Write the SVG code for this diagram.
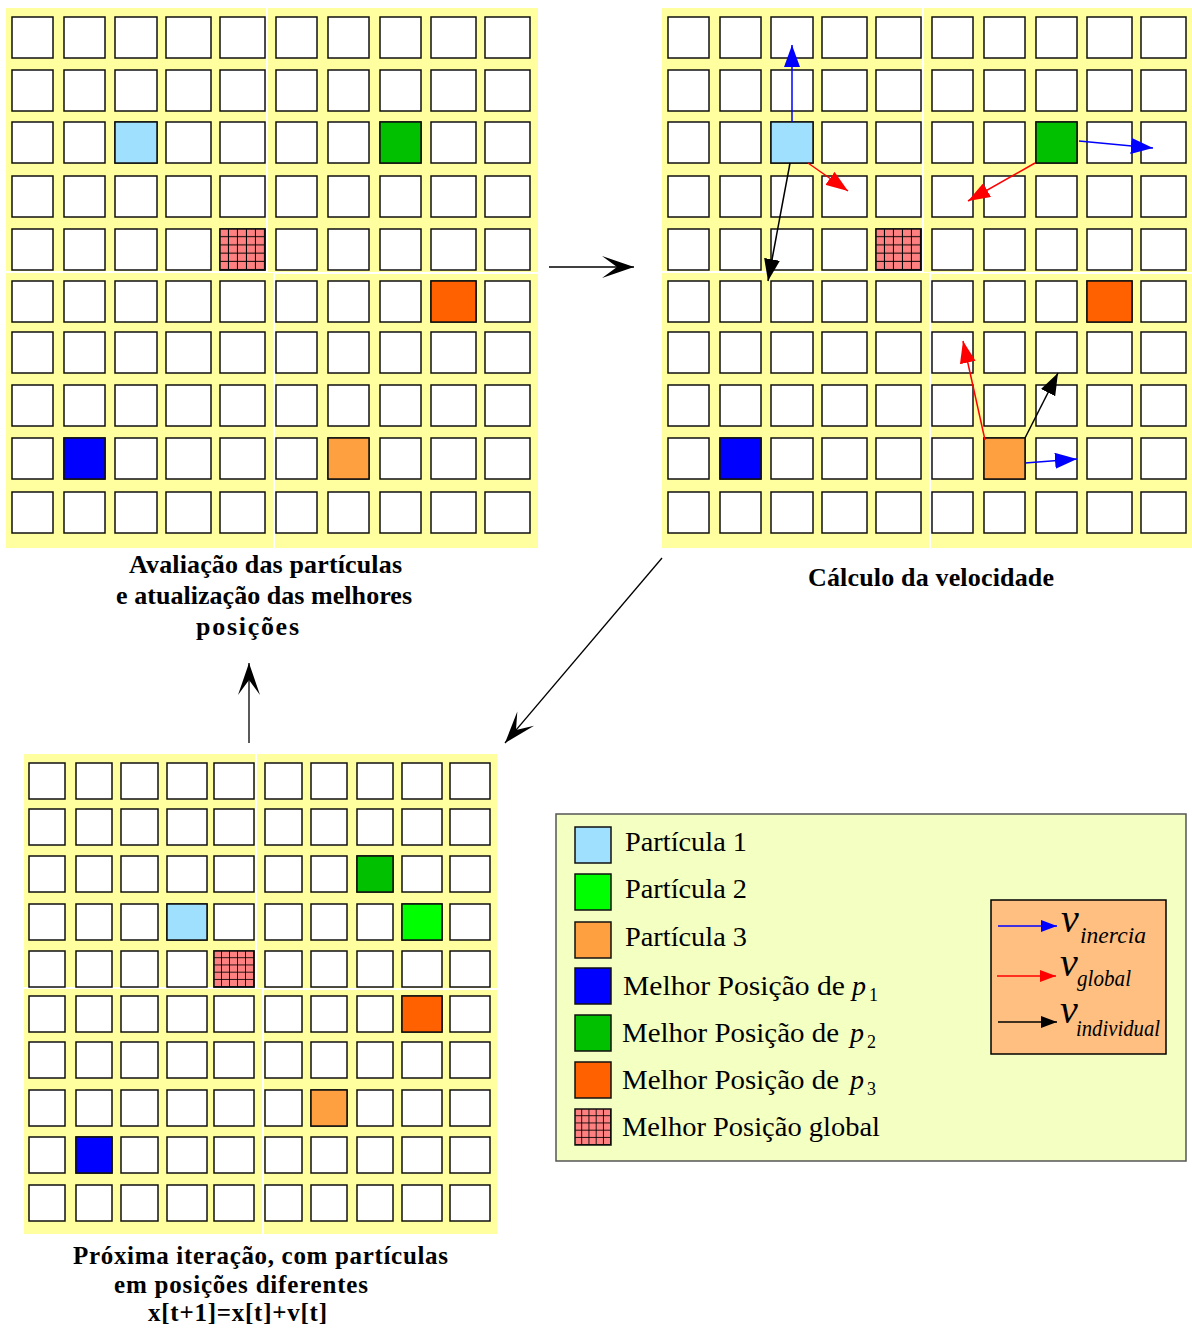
<svg xmlns="http://www.w3.org/2000/svg" xmlns:xlink="http://www.w3.org/1999/xlink" width="1192" height="1328" viewBox="0 0 1192 1328">
  <style>
    .bg { fill: #FFFFA0; }
    .cell { fill: #FFFFFF; stroke: #111; stroke-width: 1.5; }
    .p1 { fill: #A0E0FF; }
    .p2 { fill: #00FF00; }
    .p3 { fill: #FFA040; }
    .b1 { fill: #0000FF; }
    .b2 { fill: #00C000; }
    .b3 { fill: #FF6000; }
    .bg-hatch { fill: url(#hatch); }
    .mark { stroke: #111; stroke-width: 1.5; }
    .cap { font-family: "Liberation Serif", "Times New Roman", serif; font-weight: bold; font-size: 26px; fill: #000; }
    .cap-s { font-size: 25px; }
    .lg { font-family: "Liberation Serif", "Times New Roman", serif; font-size: 28px; fill: #000; }
    .it { font-style: italic; }
    .sub { font-size: 18px; }
    .vsym { font-size: 40px; font-style: italic; }
    .vsub { font-size: 23px; font-style: italic; }
    .big { fill: none; stroke: #000; stroke-width: 1.3; marker-end: url(#bigHead); }
    .vb { fill: none; stroke: #0000FF; stroke-width: 1.5; }
    .vr { fill: none; stroke: #FF0000; stroke-width: 1.5; }
    .vk { fill: none; stroke: #000000; stroke-width: 1.5; }
  </style>
  <defs>
    <!-- cross-hatched fill for the global best cell -->
    <pattern id="hatch" patternUnits="objectBoundingBox" patternContentUnits="objectBoundingBox" width="0.2" height="0.2">
      <rect width="0.2" height="0.2" fill="#FF8080"/>
      <rect x="0.176" y="0" width="0.024" height="0.2" fill="#000"/>
      <rect x="0" y="0.176" width="0.2" height="0.024" fill="#000"/>
    </pattern>
    <!-- arrowheads -->
    <marker id="bigHead" markerUnits="userSpaceOnUse" viewBox="-33 -12 34 24" refX="0" refY="0" markerWidth="34" markerHeight="24" orient="auto">
      <path d="M0,0 L-32,-11 L-17,0 L-32,11 Z" fill="#000"/>
    </marker>
    <marker id="hb" markerUnits="userSpaceOnUse" viewBox="-22 -8 22 16" refX="0" refY="0" markerWidth="22" markerHeight="16" orient="auto">
      <path d="M0,0 L-22,-8 L-22,8 Z" fill="#0000FF"/>
    </marker>
    <marker id="hr" markerUnits="userSpaceOnUse" viewBox="-22 -8 22 16" refX="0" refY="0" markerWidth="22" markerHeight="16" orient="auto">
      <path d="M0,0 L-22,-8 L-22,8 Z" fill="#FF0000"/>
    </marker>
    <marker id="hk" markerUnits="userSpaceOnUse" viewBox="-22 -8 22 16" refX="0" refY="0" markerWidth="22" markerHeight="16" orient="auto">
      <path d="M0,0 L-22,-8 L-22,8 Z" fill="#000000"/>
    </marker>
    <marker id="sb" markerUnits="userSpaceOnUse" viewBox="-16 -6 16 12" refX="0" refY="0" markerWidth="16" markerHeight="12" orient="auto">
      <path d="M0,0 L-16,-6 L-16,6 Z" fill="#0000FF"/>
    </marker>
    <marker id="sr" markerUnits="userSpaceOnUse" viewBox="-16 -6 16 12" refX="0" refY="0" markerWidth="16" markerHeight="12" orient="auto">
      <path d="M0,0 L-16,-6 L-16,6 Z" fill="#FF0000"/>
    </marker>
    <marker id="sk" markerUnits="userSpaceOnUse" viewBox="-16 -6 16 12" refX="0" refY="0" markerWidth="16" markerHeight="12" orient="auto">
      <path d="M0,0 L-16,-6 L-16,6 Z" fill="#000000"/>
    </marker>

    <!-- one row of the large 10x10 search grid -->
    <g id="rowA" class="cell">
      <rect x="6" width="41" height="41"/>
      <rect x="58" width="41" height="41"/>
      <rect x="109" width="42" height="41"/>
      <rect x="160" width="45" height="41"/>
      <rect x="214" width="45" height="41"/>
      <rect x="270" width="41" height="41"/>
      <rect x="322" width="41" height="41"/>
      <rect x="374" width="41" height="41"/>
      <rect x="425" width="45" height="41"/>
      <rect x="479" width="45" height="41"/>
    </g>
    <g id="gridA">
      <rect class="bg" x="0" y="0" width="260" height="263"/>
      <rect class="bg" x="262" y="0" width="270" height="264"/>
      <rect class="bg" x="0" y="265" width="267" height="275"/>
      <rect class="bg" x="269" y="266" width="263" height="274"/>
      <use xlink:href="#rowA" y="9"/>
      <use xlink:href="#rowA" y="62"/>
      <use xlink:href="#rowA" y="114"/>
      <use xlink:href="#rowA" y="168"/>
      <use xlink:href="#rowA" y="221"/>
      <use xlink:href="#rowA" y="273"/>
      <use xlink:href="#rowA" y="324"/>
      <use xlink:href="#rowA" y="377"/>
      <use xlink:href="#rowA" y="430"/>
      <use xlink:href="#rowA" y="484"/>
    </g>

    <!-- one row of the smaller grid -->
    <g id="rowB" class="cell">
      <rect x="5" width="36" height="36"/>
      <rect x="52" width="36" height="36"/>
      <rect x="97" width="37" height="36"/>
      <rect x="143" width="40" height="36"/>
      <rect x="190" width="40" height="36"/>
      <rect x="241" width="37" height="36"/>
      <rect x="287" width="36" height="36"/>
      <rect x="333" width="36" height="36"/>
      <rect x="378" width="40" height="36"/>
      <rect x="426" width="40" height="36"/>
    </g>
    <g id="gridB">
      <rect class="bg" x="0" y="0" width="231" height="233"/>
      <rect class="bg" x="233" y="0" width="240" height="234"/>
      <rect class="bg" x="0" y="235" width="238" height="245"/>
      <rect class="bg" x="240" y="236" width="233" height="244"/>
      <use xlink:href="#rowB" y="9"/>
      <use xlink:href="#rowB" y="55"/>
      <use xlink:href="#rowB" y="102"/>
      <use xlink:href="#rowB" y="150"/>
      <use xlink:href="#rowB" y="197"/>
      <use xlink:href="#rowB" y="242"/>
      <use xlink:href="#rowB" y="288"/>
      <use xlink:href="#rowB" y="336"/>
      <use xlink:href="#rowB" y="383"/>
      <use xlink:href="#rowB" y="431"/>
    </g>
  </defs>

  <rect width="1192" height="1328" fill="#FFFFFF"/>

  <!-- step 1: evaluation -->
  <g id="grid-avaliacao">
    <use xlink:href="#gridA" x="6" y="8"/>
    <rect class="mark p1" x="115" y="122" width="42" height="41"/>
    <rect class="mark b2" x="380" y="122" width="41" height="41"/>
    <rect class="mark bg-hatch" x="220" y="229" width="45" height="41"/>
    <rect class="mark b3" x="431" y="281" width="45" height="41"/>
    <rect class="mark b1" x="64" y="438" width="41" height="41"/>
    <rect class="mark p3" x="328" y="438" width="41" height="41"/>
  </g>
  <g id="label-avaliacao" class="cap">
    <text x="129" y="573" textLength="273" lengthAdjust="spacing">Avaliação das partículas</text>
    <text x="116" y="604" textLength="296" lengthAdjust="spacing">e atualização das melhores</text>
    <text x="196" y="635" textLength="103" lengthAdjust="spacing">posições</text>
  </g>

  <!-- step 2: velocity -->
  <g id="grid-velocidade">
    <use xlink:href="#gridA" x="662" y="8"/>
    <rect class="mark p1" x="771" y="122" width="42" height="41"/>
    <rect class="mark b2" x="1036" y="122" width="41" height="41"/>
    <rect class="mark bg-hatch" x="876" y="229" width="45" height="41"/>
    <rect class="mark b3" x="1087" y="281" width="45" height="41"/>
    <rect class="mark b1" x="720" y="438" width="41" height="41"/>
    <rect class="mark p3" x="984" y="438" width="41" height="41"/>
    <!-- velocity components -->
    <path class="vb" d="M792,122 L792,45" marker-end="url(#hb)"/>
    <path class="vr" d="M808,163 L848,191" marker-end="url(#hr)"/>
    <path class="vk" d="M790,163 L768,281" marker-end="url(#hk)"/>
    <path class="vb" d="M1079,141 L1153,148" marker-end="url(#hb)"/>
    <path class="vr" d="M1035,163 L968,201" marker-end="url(#hr)"/>
    <path class="vr" d="M985,440 L963,341" marker-end="url(#hr)"/>
    <path class="vk" d="M1025,438 L1058,373" marker-end="url(#hk)"/>
    <path class="vb" d="M1025,463 L1077,459" marker-end="url(#hb)"/>
  </g>
  <g id="label-velocidade" class="cap">
    <text x="808" y="586" textLength="246" lengthAdjust="spacing">Cálculo da velocidade</text>
  </g>

  <!-- step 3: next iteration -->
  <g id="grid-proxima">
    <use xlink:href="#gridB" x="24" y="754"/>
    <rect class="mark b2" x="357" y="856" width="36" height="36"/>
    <rect class="mark p1" x="167" y="904" width="40" height="36"/>
    <rect class="mark p2" x="402" y="904" width="40" height="36"/>
    <rect class="mark bg-hatch" x="214" y="951" width="40" height="36"/>
    <rect class="mark b3" x="402" y="996" width="40" height="36"/>
    <rect class="mark p3" x="311" y="1090" width="36" height="36"/>
    <rect class="mark b1" x="76" y="1137" width="36" height="36"/>
  </g>
  <g id="label-proxima" class="cap cap-s">
    <text x="73" y="1264" textLength="375" lengthAdjust="spacing">Próxima iteração, com partículas</text>
    <text x="114" y="1293" textLength="254" lengthAdjust="spacing">em posições diferentes</text>
    <text x="148" y="1321" textLength="179" lengthAdjust="spacing">x[t+1]=x[t]+v[t]</text>
  </g>

  <!-- cycle connectors -->
  <g id="connectors">
    <path class="big" d="M549,267 H634"/>
    <path class="big" d="M662,558 L505,743"/>
    <path class="big" d="M249,743 V663"/>
  </g>

  <!-- legend -->
  <g id="legend">
    <rect x="556" y="814" width="630" height="347" fill="#F4FFC2" stroke="#555" stroke-width="1.5"/>
    <rect class="mark p1" x="575" y="827" width="36" height="36"/>
    <rect class="mark p2" x="575" y="874" width="36" height="36"/>
    <rect class="mark p3" x="575" y="922" width="36" height="36"/>
    <rect class="mark b1" x="575" y="968" width="36" height="36"/>
    <rect class="mark b2" x="575" y="1015" width="36" height="36"/>
    <rect class="mark b3" x="575" y="1062" width="36" height="36"/>
    <rect class="mark bg-hatch" x="575" y="1109" width="36" height="36"/>
    <text class="lg" x="625" y="851" textLength="122" lengthAdjust="spacingAndGlyphs">Partícula 1</text>
    <text class="lg" x="625" y="898" textLength="122" lengthAdjust="spacingAndGlyphs">Partícula 2</text>
    <text class="lg" x="625" y="946" textLength="122" lengthAdjust="spacingAndGlyphs">Partícula 3</text>
    <text class="lg" x="623" y="995" textLength="222" lengthAdjust="spacingAndGlyphs">Melhor Posição de</text>
    <text class="lg it" x="852" y="995">p</text>
    <text class="lg sub" x="869" y="1001">1</text>
    <text class="lg" x="622" y="1042" textLength="217" lengthAdjust="spacingAndGlyphs">Melhor Posição de</text>
    <text class="lg it" x="850" y="1042">p</text>
    <text class="lg sub" x="867" y="1048">2</text>
    <text class="lg" x="622" y="1089" textLength="217" lengthAdjust="spacingAndGlyphs">Melhor Posição de</text>
    <text class="lg it" x="850" y="1089">p</text>
    <text class="lg sub" x="867" y="1095">3</text>
    <text class="lg" x="622" y="1136" textLength="258" lengthAdjust="spacingAndGlyphs">Melhor Posição global</text>

    <g id="legend-velocidades">
      <rect x="991" y="900" width="175" height="154" fill="#FFBF80" stroke="#000" stroke-width="1.5"/>
      <path class="vb" d="M998,926 H1057" marker-end="url(#sb)"/>
      <path class="vr" d="M997,976 H1056" marker-end="url(#sr)"/>
      <path class="vk" d="M998,1022 H1057" marker-end="url(#sk)"/>
      <text class="lg vsym" x="1061" y="932">v</text>
      <text class="lg vsub" x="1080" y="943" textLength="66" lengthAdjust="spacingAndGlyphs">inercia</text>
      <text class="lg vsym" x="1060" y="976">v</text>
      <text class="lg vsub" x="1077" y="986" textLength="54" lengthAdjust="spacingAndGlyphs">global</text>
      <text class="lg vsym" x="1060" y="1023">v</text>
      <text class="lg vsub" x="1076" y="1036" textLength="84" lengthAdjust="spacingAndGlyphs">individual</text>
    </g>
  </g>
</svg>
